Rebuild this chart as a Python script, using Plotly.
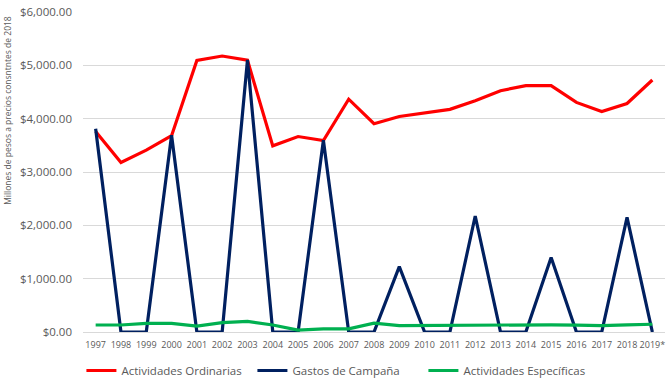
import plotly.graph_objects as go

years = ["1997", "1998", "1999", "2000", "2001", "2002", "2003", "2004", "2005", "2006",
         "2007", "2008", "2009", "2010", "2011", "2012", "2013", "2014", "2015", "2016",
         "2017", "2018", "2019*"]

ordinarias = [3760, 3180, 3410, 3680, 5090, 5175, 5095, 3490, 3665, 3590,
              4365, 3905, 4040, 4115, 4175, 4335, 4525, 4620, 4620, 4305,
              4135, 4285, 4725]

campana = [3810, 0, 0, 3690, 0, 0, 5100, 0, 0, 3595,
           0, 0, 1225, 0, 0, 2175, 0, 0, 1395, 0,
           0, 2150, 0]

especificas = [131, 131, 160, 160, 112, 175, 200, 131, 37, 60,
               60, 165, 120, 122, 122, 128, 132, 142, 135, 130,
               120, 135, 145]

series = [
    ("Actividades Ordinarias", ordinarias, "#FF0000"),
    ("Gastos de Campaña", campana, "#002060"),
    ("Actividades Específicas", especificas, "#00B050"),
]

fig = go.Figure()
for name, vals, color in series:
    fig.add_trace(go.Scatter(x=years, y=vals, name=name, mode="lines",
                             line=dict(color=color, width=3.2)))

fig.update_layout(
    width=670, height=383,
    margin=dict(l=83, r=5, t=12, b=51, autoexpand=False),
    paper_bgcolor="white", plot_bgcolor="white",
    font=dict(family="Open Sans", color="#595959"),
    showlegend=True,
    legend=dict(orientation="h", x=0.438, xanchor="center", y=-0.075, yanchor="top",
                font=dict(size=11.5, color="#595959"), itemwidth=30,
                entrywidth=126, entrywidthmode="pixels",
                bgcolor="rgba(0,0,0,0)", tracegroupgap=0),
    xaxis=dict(type="category", range=[-0.5, 22.5], showgrid=False, showline=False,
               zeroline=False, automargin=False,
               tickfont=dict(size=9, color="#595959"), ticks="", ticklen=0,
               ticklabelstandoff=6),
    yaxis=dict(range=[0, 6000], dtick=1000, tickformat="$,.2f", automargin=False,
               showgrid=True, gridcolor="#D9D9D9", gridwidth=1,
               zeroline=True, zerolinecolor="#D9D9D9", zerolinewidth=1,
               tickfont=dict(size=11.5, color="#595959"), ticklabelstandoff=10),
    annotations=[dict(text="Millones de pesos a precios consntntes de 2018",
                      xref="paper", yref="paper", x=-0.129, y=0.694,
                      xanchor="center", yanchor="middle", textangle=-90,
                      showarrow=False, font=dict(size=8.5, color="#595959"))],
)

fig.write_html("out.html", config={"displayModeBar": False},
               post_script="document.body.style.margin='0';")
